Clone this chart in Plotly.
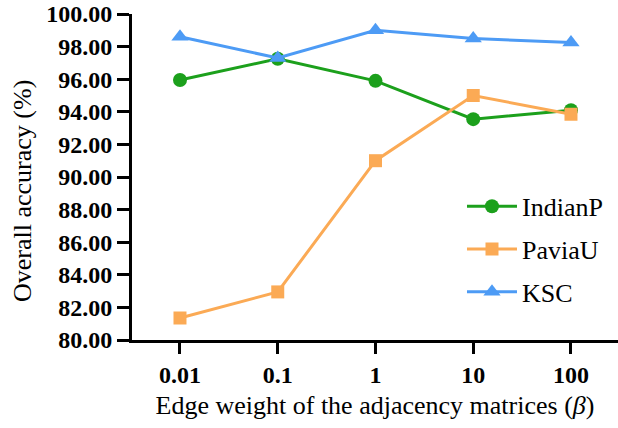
import plotly.graph_objects as go

categories = ["0.01", "0.1", "1", "10", "100"]
indianp = [95.95, 97.25, 95.9, 93.55, 94.1]
paviau = [81.35, 82.95, 91.0, 95.0, 93.85]
ksc = [98.6, 97.3, 99.0, 98.5, 98.25]
y_ticks = [80, 82, 84, 86, 88, 90, 92, 94, 96, 98, 100]

FONT = "Liberation Serif"

fig = go.Figure()
fig.add_trace(go.Scatter(x=categories, y=indianp, name="IndianP", mode="lines+markers",
                         line=dict(color="#1ca01c", width=3), legendgroup="a",
                         marker=dict(symbol="circle", size=14, color="#1ca01c")))
fig.add_trace(go.Scatter(x=categories, y=paviau, name="PaviaU", mode="lines+markers",
                         line=dict(color="#fbaa55", width=3), legendgroup="b",
                         marker=dict(symbol="square", size=13, color="#fbaa55")))
fig.add_trace(go.Scatter(x=categories, y=ksc, name="KSC", mode="lines+markers",
                         line=dict(color="#4d9bf5", width=3), legendgroup="c",
                         marker=dict(symbol="triangle-up", size=15, color="#4d9bf5")))

fig.update_layout(
    width=618, height=428,
    margin=dict(l=132, r=0, t=14, b=88),
    plot_bgcolor="white", paper_bgcolor="white",
    font=dict(family=FONT, color="black", size=26),
    showlegend=True,
    legend=dict(x=0.679, y=0.482, xanchor="left", yanchor="top",
                font=dict(family=FONT, size=26, color="black"),
                bgcolor="rgba(0,0,0,0)", tracegroupgap=6, itemwidth=50),
    xaxis=dict(type="category", range=[-0.491, 4.481], showline=True, linecolor="black",
               linewidth=3, ticks="outside", ticklen=11, tickwidth=3, tickcolor="black",
               showgrid=False, zeroline=False,
               tickfont=dict(family=FONT, size=24, color="black", weight="bold"),
               title=dict(text="Edge weight of the adjacency matrices (<i>β</i>)",
                          font=dict(family=FONT, size=26, color="black"), standoff=10)),
    yaxis=dict(range=[80, 100], tickvals=y_ticks, tickformat=".2f", showline=True,
               linecolor="black", linewidth=3, ticks="outside", ticklen=12, tickwidth=3,
               tickcolor="black", showgrid=False, zeroline=False,
               tickfont=dict(family=FONT, size=24, color="black", weight="bold")),
    annotations=[dict(text="Overall accuracy (%)", xref="paper", yref="paper",
                      x=(22 - 132) / 486, y=(340 - 191) / 326, textangle=-90,
                      showarrow=False, xanchor="center", yanchor="middle",
                      font=dict(family=FONT, size=26, color="black"))],
)

fig.write_html("out.html")
